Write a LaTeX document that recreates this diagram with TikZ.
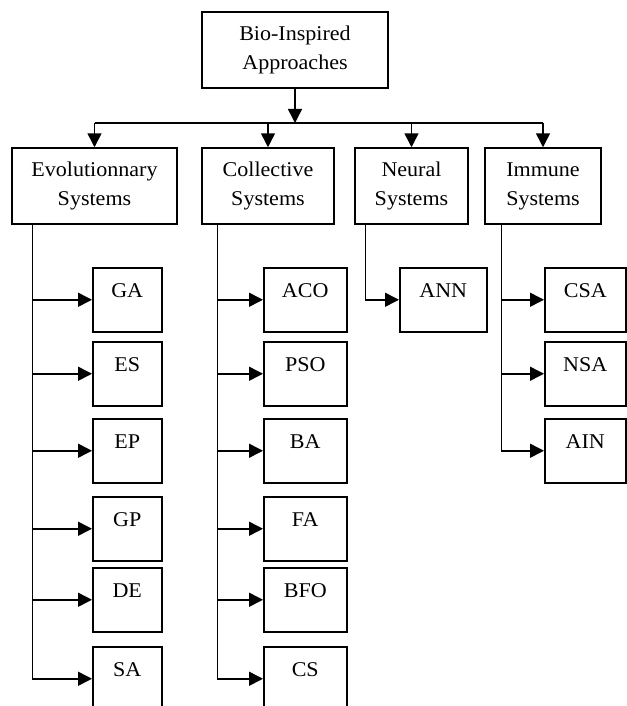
\documentclass[tikz,border=0pt]{standalone}
\usepackage{fontspec}
\setmainfont{Liberation Serif}[FakeStretch=1.05]
\usetikzlibrary{arrows.meta}
\tikzset{
  sysbox/.style={draw,line width=1.5pt,align=center,inner sep=0pt,minimum height=76pt},
  algbox/.style={draw,line width=1.5pt,inner sep=0pt,anchor=north west,text height=30pt,text depth=34pt},
  arr/.style={line width=1.5pt,-{Triangle[length=14pt,width=14pt]}}
}
\begin{document}
\begin{tikzpicture}[x=1pt,y=-1pt,font=\fontsize{21}{29}\selectfont]
\useasboundingbox (0,0) rectangle (626,706);
\node[sysbox,minimum width=186pt] (top) at (295,50) {Bio-Inspired\\Approaches};
\node[sysbox,minimum width=165pt] (evol) at (94.5,186) {Evolutionnary\\Systems};
\node[sysbox,minimum width=132pt] (coll) at (268,186) {Collective\\Systems};
\node[sysbox,minimum width=113pt] (neur) at (411.5,186) {Neural\\Systems};
\node[sysbox,minimum width=116pt] (imm) at (543,186) {Immune\\Systems};
\coordinate (bus) at (295,123);
\draw[arr] (top.south) -- (bus);
\draw[line width=1.5pt] (evol.north |- bus) -- (imm.north |- bus);
\foreach \s in {evol,coll,neur,imm} \draw[arr] (\s.north |- bus) -- (\s.north);
\node[algbox,minimum width=69pt] (ga) at (92,267) {GA};
\node[algbox,minimum width=69pt] (es) at (92,341) {ES};
\node[algbox,minimum width=69pt] (ep) at (92,418) {EP};
\node[algbox,minimum width=69pt] (gp) at (92,496) {GP};
\node[algbox,minimum width=69pt] (de) at (92,567) {DE};
\node[algbox,minimum width=69pt] (sa) at (92,646) {SA};
\node[algbox,minimum width=83pt] (aco) at (263,267) {ACO};
\node[algbox,minimum width=83pt] (pso) at (263,341) {PSO};
\node[algbox,minimum width=83pt] (ba) at (263,418) {BA};
\node[algbox,minimum width=83pt] (fa) at (263,496) {FA};
\node[algbox,minimum width=83pt] (bfo) at (263,567) {BFO};
\node[algbox,minimum width=83pt] (cs) at (263,646) {CS};
\node[algbox,minimum width=87pt] (ann) at (399,267) {ANN};
\node[algbox,minimum width=81pt] (csa) at (544,267) {CSA};
\node[algbox,minimum width=81pt] (nsa) at (544,341) {NSA};
\node[algbox,minimum width=81pt] (ain) at (544,418) {AIN};
\coordinate (evtrunk) at ([xshift=21pt]evol.south west);
\coordinate (cotrunk) at ([xshift=16pt]coll.south west);
\coordinate (nntrunk) at ([xshift=11pt]neur.south west);
\coordinate (imtrunk) at ([xshift=17pt]imm.south west);
\draw[arr] (evtrunk) |- (sa.west);
\foreach \c in {ga,es,ep,gp,de} \draw[arr] (evtrunk |- \c.west) -- (\c.west);
\draw[arr] (cotrunk) |- (cs.west);
\foreach \c in {aco,pso,ba,fa,bfo} \draw[arr] (cotrunk |- \c.west) -- (\c.west);
\draw[arr] (nntrunk) |- (ann.west);
\draw[arr] (imtrunk) |- (ain.west);
\foreach \c in {csa,nsa} \draw[arr] (imtrunk |- \c.west) -- (\c.west);
\end{tikzpicture}
\end{document}
